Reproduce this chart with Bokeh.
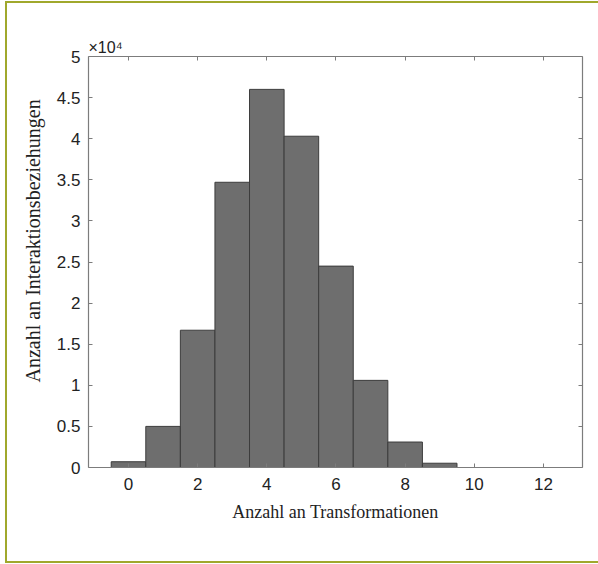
from bokeh.plotting import figure
from bokeh.models import LinearAxis, Title, Range1d, FixedTicker
from bokeh.embed import file_html
from bokeh.resources import INLINE

# Data
bin_centers = [0, 1, 2, 3, 4, 5, 6, 7, 8, 9]
counts = [700, 5000, 16700, 34700, 46000, 40300, 24500, 10600, 3100, 520]
x_ticks = [0, 2, 4, 6, 8, 10, 12]
y_ticks = [0, 5000, 10000, 15000, 20000, 25000, 30000, 35000, 40000, 45000, 50000]
y_tick_labels = ["0", "0.5", "1", "1.5", "2", "2.5", "3", "3.5", "4", "4.5", "5"]
x_label = "Anzahl an Transformationen"
y_label = "Anzahl an Interaktionsbeziehungen"
exponent_text = "×10⁴"

AX = "#7c7c7c"
TXT = "#222222"
TICKFONT = "Liberation Sans"
LABFONT = "Liberation Serif"

p = figure(width=593, height=562, output_backend="svg", toolbar_location=None,
           x_range=Range1d(-1.157, 13.13), y_range=Range1d(0, 50000),
           min_border_left=83, min_border_top=55, min_border_right=16, min_border_bottom=96,
           x_axis_location=None, y_axis_location=None)
p.margin = (1, 0, 0, 5)
p.border_fill_alpha = 0
p.styles = {"box-shadow": "inset 2px 2px 0 0 #a0a82c, inset 0 -2px 0 0 #a0a82c"}
p.outline_line_color = None
p.grid.visible = False
p.background_fill_color = "white"

p.vbar(x=bin_centers, top=counts, width=1.0, bottom=0,
       fill_color="#6e6e6e", line_color="#3c3c3c", line_width=1)

def mk_axis(show_labels):
    ax = LinearAxis()
    ax.axis_line_color = AX
    ax.axis_line_width = 1.2
    ax.major_tick_line_color = AX
    ax.major_tick_in = 4
    ax.major_tick_out = 0
    ax.minor_tick_line_color = None
    if not show_labels:
        ax.major_label_text_font_size = "0px"
        ax.major_label_text_color = None
    else:
        ax.major_label_text_font = TICKFONT
        ax.major_label_text_font_size = "17px"
        ax.major_label_text_color = TXT
    return ax

xb = mk_axis(True)
xb.ticker = FixedTicker(ticks=x_ticks)
xb.major_label_standoff = 10
xb.axis_label = x_label
xb.axis_label_text_font = LABFONT
xb.axis_label_text_font_size = "18px"
xb.axis_label_text_font_style = "normal"
xb.axis_label_text_color = TXT
xb.axis_label_standoff = 9
p.add_layout(xb, "below")

xt = mk_axis(False)
xt.ticker = FixedTicker(ticks=x_ticks)
p.add_layout(xt, "above")

yl = mk_axis(True)
yl.ticker = FixedTicker(ticks=y_ticks)
yl.major_label_overrides = {t: s for t, s in zip(y_ticks, y_tick_labels)}
yl.major_label_standoff = 8
p.add_layout(yl, "left")

p.add_layout(Title(text=y_label, align="left", offset=85, standoff=19,
                   text_font=LABFONT, text_font_size="20px", text_color=TXT,
                   text_font_style="normal"), "left")

yr = mk_axis(False)
yr.ticker = FixedTicker(ticks=y_ticks)
p.add_layout(yr, "right")

p.add_layout(Title(text=exponent_text, align="left", offset=0, standoff=2,
                   text_font=TICKFONT, text_font_size="16px", text_color=TXT,
                   text_font_style="normal"), "above")

open("out.html", "w").write(file_html(p, INLINE))
